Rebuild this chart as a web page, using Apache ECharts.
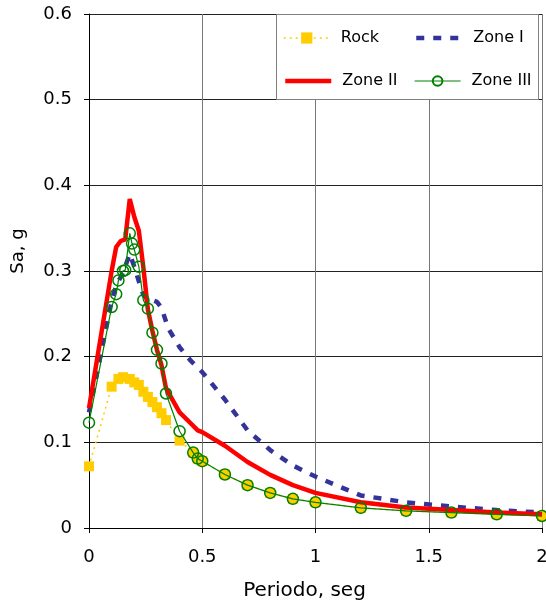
<!DOCTYPE html>
<html>
<head>
<meta charset="utf-8">
<script src="https://cdn.jsdelivr.net/npm/echarts@6/dist/echarts.min.js"></script>
<style>html,body{margin:0;padding:0;background:#fff;}#c{width:546px;height:602px;}</style>
</head>
<body>
<div id="c"></div>
<script>
const xTicks = [0, 0.5, 1, 1.5, 2];
const yTicks = [0, 0.1, 0.2, 0.3, 0.4, 0.5, 0.6];

const rockT  = [0, 0.1, 0.13, 0.15, 0.18, 0.2, 0.22, 0.24, 0.26, 0.28, 0.3, 0.32, 0.34, 0.4, 0.46, 0.48, 0.5, 0.6, 0.7, 0.8, 0.9, 1.0, 1.2, 1.4, 1.6, 1.8, 2.0];
const rockSa = [0.072, 0.165, 0.174, 0.176, 0.174, 0.170, 0.167, 0.159, 0.153, 0.147, 0.141, 0.134, 0.126, 0.102, 0.088, 0.081, 0.078, 0.0625, 0.050, 0.041, 0.034, 0.030, 0.0235, 0.020, 0.018, 0.016, 0.014];

const zone1T  = [0, 0.1, 0.12, 0.15, 0.18, 0.2, 0.22, 0.24, 0.26, 0.28, 0.3, 0.32, 0.35, 0.4, 0.45, 0.5, 0.6, 0.7, 0.8, 0.9, 1.0, 1.2, 1.4, 1.6, 1.8, 2.0];
const zone1Sa = [0.135, 0.265, 0.283, 0.298, 0.320, 0.305, 0.288, 0.272, 0.266, 0.266, 0.264, 0.257, 0.233, 0.211, 0.195, 0.182, 0.150, 0.114, 0.091, 0.073, 0.060, 0.038, 0.030, 0.025, 0.021, 0.018];

const zone2T  = [0, 0.1, 0.12, 0.14, 0.16, 0.18, 0.2, 0.22, 0.24, 0.26, 0.28, 0.3, 0.32, 0.34, 0.4, 0.45, 0.48, 0.5, 0.6, 0.7, 0.8, 0.9, 1.0, 1.2, 1.4, 1.6, 1.8, 2.0];
const zone2Sa = [0.14, 0.30, 0.328, 0.335, 0.337, 0.384, 0.363, 0.347, 0.304, 0.255, 0.230, 0.208, 0.190, 0.163, 0.135, 0.122, 0.114, 0.112, 0.096, 0.077, 0.062, 0.050, 0.041, 0.030, 0.024, 0.021, 0.018, 0.016];

const zone3T  = [0, 0.1, 0.12, 0.13, 0.15, 0.16, 0.18, 0.19, 0.2, 0.22, 0.24, 0.26, 0.28, 0.3, 0.32, 0.34, 0.4, 0.46, 0.48, 0.5, 0.6, 0.7, 0.8, 0.9, 1.0, 1.2, 1.4, 1.6, 1.8, 2.0];
const zone3Sa = [0.123, 0.258, 0.273, 0.289, 0.300, 0.301, 0.344, 0.332, 0.325, 0.305, 0.266, 0.256, 0.228, 0.208, 0.192, 0.157, 0.113, 0.088, 0.081, 0.078, 0.0625, 0.050, 0.041, 0.034, 0.030, 0.0235, 0.020, 0.018, 0.016, 0.014];

const pairs = (t, v) => t.map((x, i) => [x, v[i]]);
const FONT = 'DejaVu Sans';

const chart = echarts.init(document.getElementById('c'), null, {renderer: 'canvas'});
const legendBase = {
  orient: 'horizontal', padding: 0, itemWidth: 46, itemHeight: 14,
  textStyle: {fontFamily: FONT, fontSize: 16, color: '#000', padding: [0, 0, 0, 6]},
  selectedMode: false
};
const noSym = {opacity: 0};
chart.setOption({
  animation: false,
  backgroundColor: '#fff',
  grid: {left: 89, right: 4, top: 14, bottom: 74, containLabel: false, outerBoundsMode: 'none'},
  xAxis: {
    type: 'value', min: xTicks[0], max: xTicks[xTicks.length - 1], interval: 0.5,
    name: 'Periodo, seg', nameLocation: 'middle', nameGap: 53,
    nameTextStyle: {fontFamily: FONT, fontSize: 20, color: '#000', padding: [0, 22, 0, 0]},
    axisLine: {show: true, lineStyle: {color: '#000', width: 1}},
    axisTick: {show: true, length: 5, lineStyle: {color: '#000'}},
    axisLabel: {fontFamily: FONT, fontSize: 18, color: '#000', margin: 20,
      formatter: v => String(v)},
    splitLine: {show: true, lineStyle: {color: '#777', width: 1}}
  },
  yAxis: {
    type: 'value', min: yTicks[0], max: yTicks[yTicks.length - 1], interval: 0.1,
    axisLine: {show: true, lineStyle: {color: '#000', width: 1}},
    axisTick: {show: true, length: 5, lineStyle: {color: '#000'}},
    axisLabel: {fontFamily: FONT, fontSize: 18, color: '#000', margin: 17,
      padding: [4, 0, 0, 0],
      formatter: v => (v === 0 ? '0' : v.toFixed(1))},
    splitLine: {show: true, lineStyle: {color: '#222', width: 1}}
  },
  graphic: [
    {
      type: 'rect', z: 3, shape: {x: 276.5, y: 14.5, width: 262, height: 85},
      style: {fill: '#fff', stroke: '#808080', lineWidth: 1}
    },
    {
      type: 'text', x: 18, y: 251, rotation: Math.PI / 2,
      style: {text: 'Sa, g', font: '18px "DejaVu Sans"', fill: '#000',
        align: 'center', verticalAlign: 'middle'}
    }
  ],
  legend: [
    Object.assign({}, legendBase, {data: [{name: 'Rock', lineStyle: {width: 1.5}}], left: 283, top: 30}),
    Object.assign({}, legendBase, {data: [{name: 'Zone I', itemStyle: noSym, lineStyle: {width: 4.5}}], left: 414, top: 30}),
    Object.assign({}, legendBase, {data: [{name: 'Zone II', itemStyle: noSym, lineStyle: {width: 4.5}}], left: 283, top: 73}),
    Object.assign({}, legendBase, {data: [{name: 'Zone III', lineStyle: {width: 1.2}}], left: 414, top: 73, itemHeight: 12})
  ],
  series: [
    {
      name: 'Rock', type: 'line', data: pairs(rockT, rockSa), clip: false,
      symbol: 'rect', symbolSize: 10,
      itemStyle: {color: '#FFCC00'},
      lineStyle: {color: '#FFCC00', width: 1.5, type: [2, 4]},
      z: 2
    },
    {
      name: 'Zone I', type: 'line', data: pairs(zone1T, zone1Sa), clip: false,
      symbol: 'none', showSymbol: false,
      itemStyle: {color: '#333399'},
      lineStyle: {color: '#333399', width: 4.5, type: [8, 9]},
      z: 3
    },
    {
      name: 'Zone II', type: 'line', data: pairs(zone2T, zone2Sa), clip: false,
      symbol: 'none', showSymbol: false,
      itemStyle: {color: '#FF0000'},
      lineStyle: {color: '#FF0000', width: 4.5},
      z: 4
    },
    {
      name: 'Zone III', type: 'line', data: pairs(zone3T, zone3Sa), clip: false,
      symbol: 'circle', symbolSize: 11,
      itemStyle: {color: 'rgba(255,255,255,0)', borderColor: '#008000', borderWidth: 1.5},
      lineStyle: {color: '#008000', width: 1.2},
      z: 5
    }
  ]
});
</script>
</body>
</html>
